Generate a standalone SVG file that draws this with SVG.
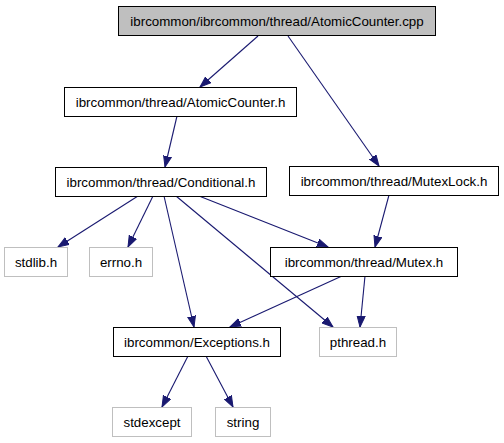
<svg xmlns="http://www.w3.org/2000/svg" width="504" height="443" viewBox="0 0 504 443">
<style>
.n rect{fill:#fff;stroke:#000;stroke-width:1}
.n.ext rect{stroke:#bfbfbf}
.n.top rect{fill:#bfbfbf}
text{font-family:"Liberation Sans",Arial,sans-serif;font-size:13.33px;fill:#000;text-anchor:middle}
#edges line{stroke:#191970;stroke-width:1.1;fill:none;marker-end:url(#arr)}
</style>
<defs>
<marker id="arr" markerUnits="userSpaceOnUse" markerWidth="12" markerHeight="10" refX="11" refY="4.5" orient="auto">
<path d="M0,0.5 L11,4.5 L0,8.5 z" fill="#191970" stroke="#191970" stroke-width="1"/>
</marker>
</defs>
<rect width="504" height="443" fill="#fff"/>
<g id="edges">
<line x1="258" y1="36" x2="200" y2="87"/>
<line x1="288" y1="36" x2="379" y2="166"/>
<line x1="177" y1="116" x2="165" y2="167"/>
<line x1="389" y1="195" x2="375" y2="247"/>
<line x1="138" y1="196" x2="58" y2="247"/>
<line x1="153" y1="196" x2="128" y2="247"/>
<line x1="164" y1="196" x2="194" y2="327"/>
<line x1="176" y1="196" x2="333" y2="327"/>
<line x1="199" y1="196" x2="328" y2="247"/>
<line x1="342" y1="276" x2="230" y2="327"/>
<line x1="365" y1="276" x2="360" y2="327"/>
<line x1="188" y1="356" x2="162" y2="407"/>
<line x1="206" y1="356" x2="233" y2="407"/>
</g>
<g id="n_cpp" class="n top"><rect x="118.5" y="6.5" width="317" height="29"/><text x="277" y="25.5">ibrcommon/ibrcommon/thread/AtomicCounter.cpp</text></g>
<g id="n_atomic" class="n"><rect x="64.5" y="87.5" width="232" height="29"/><text x="180.5" y="106.5">ibrcommon/thread/AtomicCounter.h</text></g>
<g id="n_cond" class="n"><rect x="55.5" y="167.5" width="211" height="29"/><text x="161" y="186.5">ibrcommon/thread/Conditional.h</text></g>
<g id="n_mlock" class="n"><rect x="289.5" y="166.5" width="209" height="29"/><text x="394" y="185.5">ibrcommon/thread/MutexLock.h</text></g>
<g id="n_mutex" class="n"><rect x="270.5" y="247.5" width="187" height="29"/><text x="364" y="266.5">ibrcommon/thread/Mutex.h</text></g>
<g id="n_stdlib" class="n ext"><rect x="4.5" y="247.5" width="63" height="29"/><text x="36" y="266.5">stdlib.h</text></g>
<g id="n_errno" class="n ext"><rect x="89.5" y="247.5" width="63" height="29"/><text x="121" y="266.5">errno.h</text></g>
<g id="n_exc" class="n"><rect x="113.5" y="327.5" width="167" height="29"/><text x="197" y="346.5">ibrcommon/Exceptions.h</text></g>
<g id="n_pthread" class="n ext"><rect x="319.5" y="327.5" width="77" height="29"/><text x="358" y="346.5">pthread.h</text></g>
<g id="n_stdexcept" class="n ext"><rect x="112.5" y="407.5" width="79" height="29"/><text x="152" y="426.5">stdexcept</text></g>
<g id="n_string" class="n ext"><rect x="215.5" y="407.5" width="55" height="29"/><text x="243" y="426.5">string</text></g>
</svg>
